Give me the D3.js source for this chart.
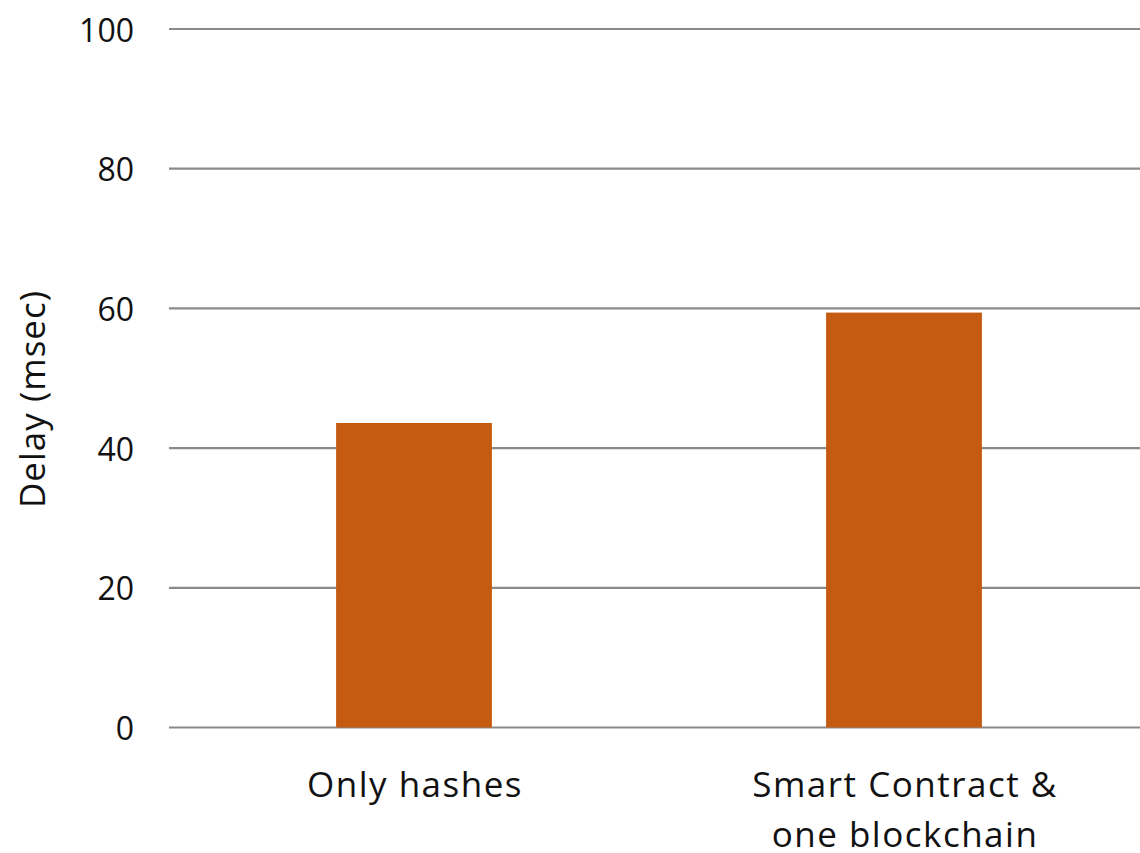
<!DOCTYPE html>
<html>
<head>
<meta charset="utf-8">
<script src="https://cdn.jsdelivr.net/npm/d3@7"></script>
<style>
  html, body { margin: 0; padding: 0; background: #fff; }
  svg { display: block; }
  text { font-family: "Open Sans", "Noto Sans", sans-serif; fill: #111; }
</style>
</head>
<body>
<svg id="chart" width="1140" height="853"></svg>
<script>
const categories = [["Only hashes"], ["Smart Contract &", "one blockchain"]];
const values = [43.6, 59.4];
const yTicks = [0, 20, 40, 60, 80, 100];
const yLabel = "Delay (msec)";

const svg = d3.select("#chart");
const mLeft = 169, mRight = 1149, mTop = 29, mBottom = 727.5;

const x = d3.scaleBand()
  .domain(d3.range(categories.length))
  .range([mLeft, mRight])
  .paddingInner(0.682)
  .paddingOuter(0.341);

const y = d3.scaleLinear().domain([0, 100]).range([mBottom, mTop]);

// gridlines
svg.append("g").selectAll("line").data(yTicks).join("line")
  .attr("x1", mLeft).attr("x2", 1140)
  .attr("y1", d => y(d)).attr("y2", d => y(d))
  .attr("stroke", "#8a8a8a").attr("stroke-width", 2.2);

// y tick labels
svg.append("g").selectAll("text").data(yTicks).join("text")
  .attr("x", 134).attr("y", d => y(d))
  .attr("text-anchor", "end").attr("dominant-baseline", "central")
  .attr("font-size", 32)
  .text(d => d);

// bars
svg.append("g").selectAll("rect").data(values).join("rect")
  .attr("x", (d, i) => x(i))
  .attr("width", x.bandwidth())
  .attr("y", d => y(d))
  .attr("height", d => y(0) - y(d))
  .attr("fill", "#C55A11");

// x labels
const xl = svg.append("g").selectAll("text").data(categories).join("text")
  .attr("text-anchor", "middle")
  .attr("font-size", 35)
  .attr("letter-spacing", 1.5)
  .attr("transform", (d, i) => `translate(${x(i) + x.bandwidth() / 2 + 1},797)`);
xl.selectAll("tspan").data(d => d).join("tspan")
  .attr("x", 0).attr("dy", (d, j) => j === 0 ? 0 : 50)
  .text(d => d);

// y axis label
svg.append("text")
  .attr("transform", `translate(45,399) rotate(-90)`)
  .attr("text-anchor", "middle")
  .attr("font-size", 35)
  .attr("letter-spacing", 1)
  .text(yLabel);
</script>
</body>
</html>
